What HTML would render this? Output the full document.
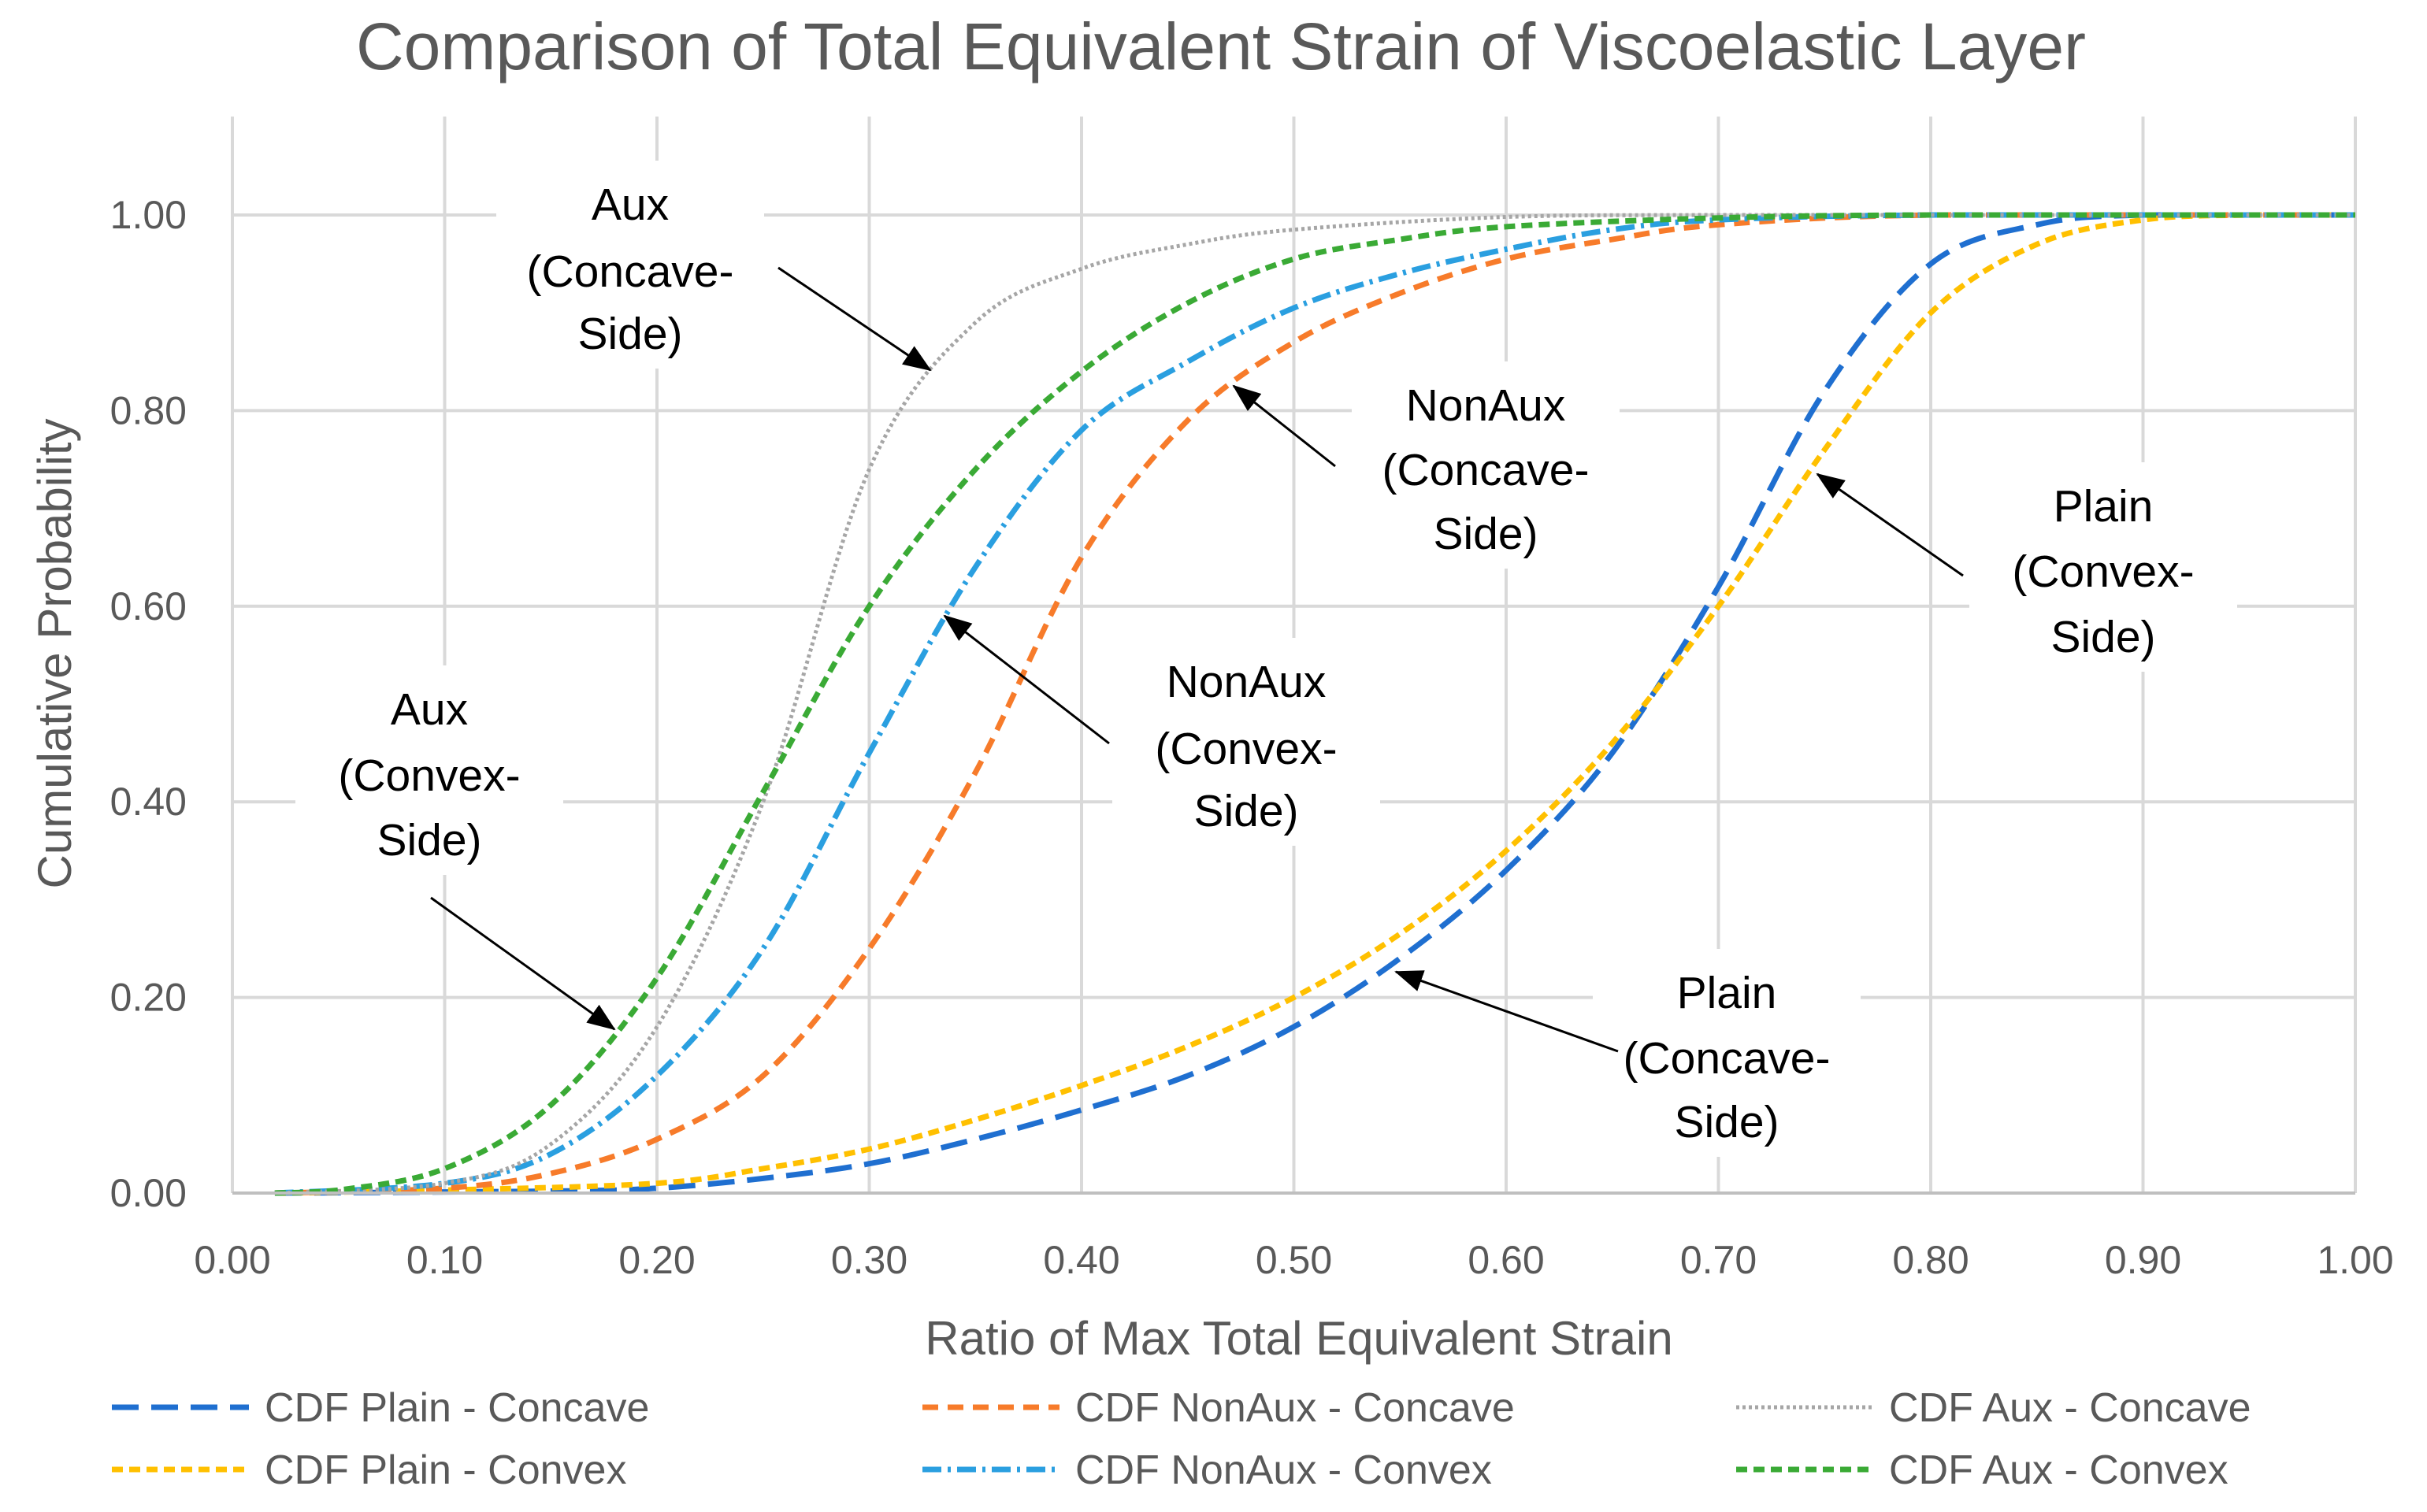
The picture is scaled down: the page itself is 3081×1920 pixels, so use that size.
<!DOCTYPE html>
<html><head><meta charset="utf-8"><style>
body{margin:0;background:#fff}
svg{display:block;font-family:"Liberation Sans",sans-serif}
</style></head><body>
<svg id="chart" width="3081" height="1920" viewBox="0 0 3081 1920" xmlns="http://www.w3.org/2000/svg">
<defs><marker id="ah" markerWidth="36" markerHeight="28" refX="34" refY="14" orient="auto" markerUnits="userSpaceOnUse" viewBox="0 0 36 28"><path d="M0,0 L36,14 L0,28 z" fill="#000"/></marker></defs>
<text x="1550" y="88" text-anchor="middle" font-size="84" fill="#595959">Comparison of Total Equivalent Strain of Viscoelastic Layer</text>
<g id="grid"></g><g id="ann-bg"></g><g id="series"></g><g id="ann"></g><g id="axes"></g><g id="legend"></g>
<text x="1649" y="1720" text-anchor="middle" font-size="60" fill="#595959">Ratio of Max Total Equivalent Strain</text>
<text transform="translate(90,830) rotate(-90)" text-anchor="middle" font-size="60" fill="#595959">Cumulative Probability</text>
</svg>
<script>
const xTicks=[0,0.1,0.2,0.3,0.4,0.5,0.6,0.7,0.8,0.9,1.0];
const yTicks=[0,0.2,0.4,0.6,0.8,1.0];
const plainConcaveX=[0.02,0.15,0.2,0.25,0.3,0.35,0.4,0.45,0.5,0.55,0.6,0.65,0.7,0.75,0.8,0.85,0.9,1.0];
const plainConcaveY=[0,0.002,0.005,0.015,0.03,0.055,0.085,0.12,0.17,0.24,0.33,0.45,0.62,0.82,0.95,0.99,1,1];
const plainConvexX=[0.02,0.1,0.2,0.25,0.3,0.35,0.4,0.45,0.5,0.55,0.6,0.65,0.7,0.75,0.8,0.85,0.9,0.95,1.0];
const plainConvexY=[0,0.003,0.01,0.025,0.045,0.075,0.11,0.15,0.2,0.265,0.35,0.46,0.6,0.76,0.9,0.97,0.995,1,1];
const nonAuxConcaveX=[0.02,0.1,0.15,0.2,0.25,0.3,0.35,0.4,0.45,0.5,0.55,0.6,0.65,0.7,0.8,1.0];
const nonAuxConcaveY=[0,0.005,0.02,0.055,0.12,0.25,0.43,0.65,0.79,0.87,0.92,0.955,0.975,0.99,1,1];
const nonAuxConvexX=[0.02,0.1,0.15,0.2,0.25,0.3,0.35,0.4,0.45,0.5,0.55,0.6,0.65,0.7,0.8,1.0];
const nonAuxConvexY=[0,0.01,0.04,0.12,0.25,0.45,0.64,0.78,0.85,0.905,0.94,0.965,0.985,0.995,1,1];
const auxConcaveX=[0.02,0.1,0.15,0.2,0.25,0.3,0.35,0.4,0.45,0.5,0.6,0.7,1.0];
const auxConcaveY=[0,0.01,0.05,0.17,0.4,0.74,0.89,0.945,0.97,0.985,0.998,1,1];
const auxConvexX=[0.02,0.05,0.1,0.15,0.2,0.25,0.3,0.35,0.4,0.45,0.5,0.55,0.6,0.7,0.8,1.0];
const auxConvexY=[0,0.003,0.025,0.09,0.22,0.41,0.6,0.74,0.84,0.91,0.955,0.975,0.988,0.997,1,1];

const X0=295,X1=2990,Y0=1515,Y1=273,YTOP=148;
const sx=v=>X0+(X1-X0)*v;
const sy=v=>Y0-(Y0-Y1)*v;
const NS="http://www.w3.org/2000/svg";
function mk(tag,attrs,parent){const e=document.createElementNS(NS,tag);for(const k in attrs)e.setAttribute(k,attrs[k]);parent.appendChild(e);return e;}
const grid=document.getElementById('grid'),axes=document.getElementById('axes');
xTicks.forEach(t=>{
  const l=mk('line',{x1:sx(t),x2:sx(t),y1:YTOP,y2:Y0,stroke:'#d9d9d9','stroke-width':4},grid);
  
  
  const tx=mk('text',{x:sx(t),y:1617,'text-anchor':'middle','font-size':50,fill:'#595959'},axes);
  tx.textContent=t.toFixed(2);
  
  
});
yTicks.forEach(t=>{
  const l=mk('line',{x1:X0,x2:X1,y1:sy(t),y2:sy(t),stroke:'#d9d9d9','stroke-width':4},grid);
  
  
  const tx=mk('text',{x:237,y:sy(t)+17,'text-anchor':'end','font-size':50,fill:'#595959'},axes);
  tx.textContent=t.toFixed(2);
  
  
});
const ax=mk('line',{x1:X0,x2:X1,y1:Y0,y2:Y0,stroke:'#bfbfbf','stroke-width':4},axes);



function pathFor(xs,ys){
  const p=xs.map((x,i)=>[sx(x),sy(ys[i])]);
  let d='M'+p[0][0]+','+p[0][1];
  for(let i=0;i<p.length-1;i++){
    const a=p[i-1]||p[i],b=p[i],c=p[i+1],e=p[i+2]||c;
    let c1y=b[1]+(c[1]-a[1])/6,c2y=c[1]-(e[1]-b[1])/6;
    const lo=Math.min(b[1],c[1]),hi=Math.max(b[1],c[1]);
    c1y=Math.max(lo,Math.min(hi,c1y));c2y=Math.max(lo,Math.min(hi,c2y));
    d+=` C${b[0]+(c[0]-a[0])/6},${c1y} ${c[0]-(e[0]-b[0])/6},${c2y} ${c[0]},${c[1]}`;
  }
  return d;
}
const seriesDefs=[
 ['series-plain-concave',plainConcaveX,plainConcaveY,'#1f6fd0','34,16'],
 ['series-plain-convex',plainConvexX,plainConvexY,'#ffc000','14,8'],
 ['series-nonaux-concave',nonAuxConcaveX,nonAuxConcaveY,'#f77b2a','20,12'],
 ['series-nonaux-convex',nonAuxConvexX,nonAuxConvexY,'#2a9fe0','24,8,4,8'],
 ['series-aux-concave',auxConcaveX,auxConcaveY,'#a6a6a6','4,4'],
 ['series-aux-convex',auxConvexX,auxConvexY,'#3aaa35','14,8']
];
const sg=document.getElementById('series');
seriesDefs.forEach(s=>{
  const p=mk('path',{d:pathFor(s[1],s[2]),fill:'none',stroke:s[3],'stroke-width':s[0]==='series-aux-concave'?5:7,'stroke-dasharray':s[4]},sg);
  
  
});
const anns=[
 ['annotation-aux-concave',800,[259,344,423],['Aux','(Concave-','Side)'],[988,340,1181,470]],
 ['annotation-nonaux-concave',1886,[514,596,677],['NonAux','(Concave-','Side)'],[1695,592,1566,490]],
 ['annotation-plain-convex',2670,[642,725,808],['Plain','(Convex-','Side)'],[2492,731,2307,602]],
 ['annotation-nonaux-convex',1582,[865,950,1029],['NonAux','(Convex-','Side)'],[1408,944,1199,782]],
 ['annotation-aux-convex',545,[900,984,1066],['Aux','(Convex-','Side)'],[547,1140,780,1307]],
 ['annotation-plain-concave',2192,[1260,1343,1424],['Plain','(Concave-','Side)'],[2054,1335,1772,1234]]
];
const ag=document.getElementById('ann'),abg=document.getElementById('ann-bg');
anns.forEach(a=>{
  const r=mk('rect',{x:a[1]-170,y:a[2][0]-55,width:340,height:a[2][2]-a[2][0]+100,fill:'#fff'},abg);
  
  
  const t=mk('text',{'text-anchor':'middle','font-size':57,fill:'#000'},ag);
  
  
  a[3].forEach((s,i)=>{const ts=mk('tspan',{x:a[1],y:a[2][i]+20},t);ts.textContent=s;});
  const l=mk('line',{x1:a[4][0],y1:a[4][1],x2:a[4][2],y2:a[4][3],stroke:'#000','stroke-width':3,'marker-end':'url(#ah)'},ag);
  
  
});
const lg=document.getElementById('legend');
const legendItems=[
 ['CDF Plain - Concave',142,1787,0],['CDF NonAux - Concave',1171,1787,2],['CDF Aux - Concave',2204,1787,4],
 ['CDF Plain - Convex',142,1866,1],['CDF NonAux - Convex',1171,1866,3],['CDF Aux - Convex',2204,1866,5]
];
legendItems.forEach(it=>{
  const s=seriesDefs[it[3]];
  const g=mk('g',{},lg);
  
  
  mk('line',{x1:it[1],x2:it[1]+174,y1:it[2],y2:it[2],stroke:s[3],'stroke-width':it[3]===4?5:7,'stroke-dasharray':s[4]},g);
  const t=mk('text',{x:it[1]+194,y:it[2]+18,'font-size':52,fill:'#595959'},g);
  t.textContent=it[0];
});
</script>
</body></html>
